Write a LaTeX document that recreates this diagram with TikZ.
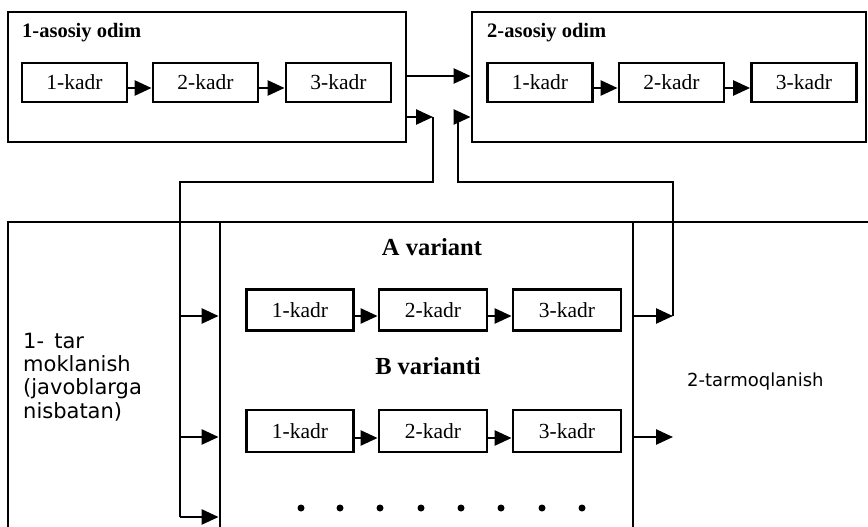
\documentclass[tikz,border=0pt]{standalone}
\usepackage{fontspec}
\setmainfont{Liberation Serif}
\newfontfamily\sansf{DejaVu Sans}
\usetikzlibrary{arrows.meta}
\begin{document}
\begin{tikzpicture}[x=1pt,y=-1pt,
  kadr/.style={draw, line width=2.8pt, minimum width=105pt, minimum height=39pt, inner sep=0pt, font=\fontsize{21.5}{21.5}\selectfont},
  frame/.style={draw, line width=2.8pt, inner sep=0pt},
  ttl/.style={font=\fontsize{20.5}{20.5}\selectfont\bfseries, inner sep=0pt, anchor=west},
  vtl/.style={font=\fontsize{24.5}{24.5}\selectfont\bfseries, inner sep=0pt},
  conn/.style={line width=2.5pt},
  arr/.style={line width=2.5pt, -{Triangle[length=17pt,width=15pt]}},
  dot/.style={circle, fill, inner sep=0pt, minimum size=7pt},
]
\useasboundingbox (0,0) rectangle (868,527);
\clip (0,0) rectangle (868,527);

% frames
\node[frame, minimum width=398pt, minimum height=130pt] (s1) at (207,77) {};
\node[frame, minimum width=394pt, minimum height=130pt] (s2) at (669,77) {};
\node[frame, minimum width=892pt, minimum height=338pt] (br) at (454,391) {};
\node[frame, minimum width=413pt, minimum height=338pt] (var) at (426.5,391) {};

% titles
\node[ttl] (t1) at (22,33) {1-asosiy odim};
\node[ttl] (t2) at (487,33) {2-asosiy odim};
\node[vtl] (va) at (432,247) {A variant};
\node[vtl] (vb) at (428,366) {B varianti};

% top-left kadrs
\node[kadr] (a1) at (74.5,82.5) {1-kadr};
\node[kadr] (a2) at (205.5,82.5) {2-kadr};
\node[kadr] (a3) at (338.5,82.5) {3-kadr};
% top-right kadrs
\node[kadr] (b1) at (540,82.5) {1-kadr};
\node[kadr] (b2) at (671.5,82.5) {2-kadr};
\node[kadr] (b3) at (804,82.5) {3-kadr};
% variant A
\node[kadr, minimum width=107pt, minimum height=41pt] (c1) at (300,310) {1-kadr};
\node[kadr, minimum width=108pt, minimum height=41pt] (c2) at (433,310) {2-kadr};
\node[kadr, minimum width=108pt, minimum height=41pt] (c3) at (567,310) {3-kadr};
% variant B
\node[kadr, minimum width=107pt, minimum height=42pt] (d1) at (300,431) {1-kadr};
\node[kadr, minimum width=108pt, minimum height=42pt] (d2) at (433,431) {2-kadr};
\node[kadr, minimum width=108pt, minimum height=42pt] (d3) at (567,431) {3-kadr};

% arrows between kadrs
\foreach \p/\q in {a1/a2,a2/a3,b1/b2,b2/b3}
  \draw[arr] ([yshift=-5.5pt]\p.east) -- ([yshift=-5.5pt]\q.west);
\foreach \p/\q in {c1/c2,c2/c3}
  \draw[arr] ([yshift=-6pt]\p.east) -- ([yshift=-6pt]\q.west);
\foreach \p/\q in {d1/d2,d2/d3}
  \draw[arr] ([yshift=-7pt]\p.east) -- ([yshift=-7pt]\q.west);

% dots
\foreach \x [count=\i] in {301,340,380,421,461,501,542,582}
  \node[dot] (dt\i) at (\x,508) {};

% side texts
\node[anchor=west, align=left, inner sep=0pt, font=\sansf\fontsize{21}{23.4}\selectfont] (l1) at (23,377) {1- \,tar\\moklanish\\(javoblarga\\nisbatan)};
\node[anchor=west, inner sep=0pt, font=\sansf\fontsize{18}{18}\selectfont] (l2) at (687,382) {2-tarmoqlanish};

% main connector s1 -> s2
\draw[arr] (s1.east |- 0,76) -- (s2.west |- 0,76);

% coordinates for branching
\coordinate (p1) at (433,117);
\coordinate (p2) at (433,182);
\coordinate (p3) at (180,182);
\coordinate (p4) at (180,316);
\coordinate (p5) at (180,437);
\coordinate (p6) at (180,517);
\coordinate (q1) at (673,316);
\coordinate (q2) at (673,182);
\coordinate (q3) at (458,182);
\coordinate (q4) at (458,117);
\coordinate (q5) at (673,437);

% from 1-asosiy odim down to the variants
\draw[arr] (s1.east |- p1) -- (p1);
\draw[conn] (p1) -- (p2) -- (p3) -- (p6);
\draw[arr] (p4) -- (var.west |- p4);
\draw[arr] (p5) -- (var.west |- p5);
\draw[arr] (p6) -- (var.west |- p6);

% from variants up to 2-asosiy odim
\draw[arr] (var.east |- q1) -- (q1);
\draw[conn] (q1) -- (q2) -- (q3) -- (q4);
\draw[arr] (q4) -- (s2.west |- q4);
\draw[arr] (var.east |- q5) -- (q5);
\end{tikzpicture}
\end{document}
